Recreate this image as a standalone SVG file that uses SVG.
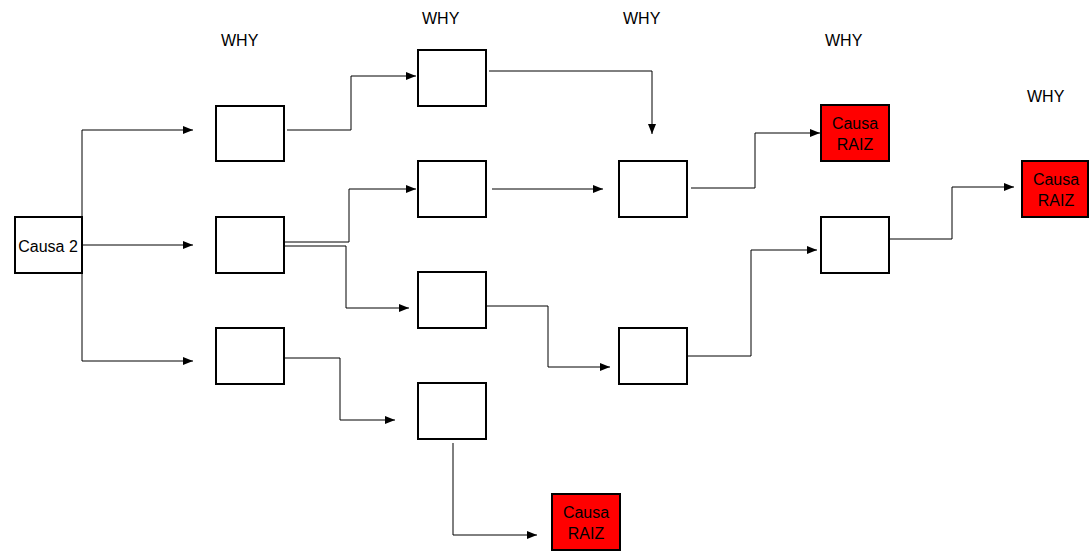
<svg xmlns="http://www.w3.org/2000/svg" width="1090" height="558" viewBox="0 0 1090 558">
<defs>
<marker id="ah" viewBox="0 0 10 8" refX="10" refY="4" markerWidth="10" markerHeight="8" markerUnits="userSpaceOnUse" orient="auto">
<path d="M0,0 L10,4 L0,8 Z" fill="#000"/>
</marker>
</defs>
<style>
.box{fill:#fff;stroke:#000;stroke-width:2}
.red{fill:#ff0000;stroke:#000;stroke-width:2}
.c{fill:none;stroke:#000;stroke-width:1;marker-end:url(#ah)}
.cn{fill:none;stroke:#000;stroke-width:1}
text{font-family:"Liberation Sans",Arial,sans-serif;font-size:16px;fill:#000}
.m{text-anchor:middle}
</style>
<rect width="1090" height="558" fill="#fff"/>
<g id="labels">
<text x="221" y="46">WHY</text>
<text x="422" y="24">WHY</text>
<text x="623" y="24">WHY</text>
<text x="825" y="46">WHY</text>
<text x="1027" y="102">WHY</text>
</g>
<g id="connectors">
<path class="cn" d="M82,130 V361"/>
<path class="c" d="M82,130 H193"/>
<path class="c" d="M82,245 H193"/>
<path class="c" d="M82,361 H193"/>
<path class="c" d="M287,130 H351 V76 H416"/>
<path class="c" d="M284,242 H349 V189 H416"/>
<path class="c" d="M284,246 H346 V308 H409"/>
<path class="c" d="M284,358 H340 V420 H395"/>
<path class="c" d="M489,71 H652 V134"/>
<path class="c" d="M492,189 H603"/>
<path class="c" d="M486,306 H548 V367 H610"/>
<path class="c" d="M453,443 V535 H537"/>
<path class="c" d="M691,188 H755 V133 H820"/>
<path class="c" d="M687,356 H751 V250 H817"/>
<path class="c" d="M889,239 H952 V187 H1014"/>
</g>
<g id="causa2">
<rect class="box" x="15" y="217" width="67" height="56"/>
<text x="48" y="252" class="m">Causa 2</text>
</g>
<g id="n1a"><rect class="box" x="216" y="106" width="68" height="55"/></g>
<g id="n1b"><rect class="box" x="216" y="217" width="68" height="56"/></g>
<g id="n1c"><rect class="box" x="216" y="328" width="68" height="56"/></g>
<g id="n2a"><rect class="box" x="418" y="50" width="68" height="56"/></g>
<g id="n2b"><rect class="box" x="418" y="161" width="68" height="56"/></g>
<g id="n2c"><rect class="box" x="418" y="272" width="68" height="56"/></g>
<g id="n2d"><rect class="box" x="418" y="383" width="68" height="56"/></g>
<g id="n3a"><rect class="box" x="619" y="161" width="68" height="56"/></g>
<g id="n3b"><rect class="box" x="619" y="328" width="68" height="56"/></g>
<g id="raiz1">
<rect class="red" x="821" y="105" width="68" height="56"/>
<text x="855" y="129" class="m">Causa</text>
<text x="855" y="150" class="m">RAIZ</text>
</g>
<g id="n4b"><rect class="box" x="821" y="217" width="68" height="56"/></g>
<g id="raiz2">
<rect class="red" x="1022" y="161" width="66" height="56"/>
<text x="1056" y="185" class="m">Causa</text>
<text x="1056" y="206" class="m">RAIZ</text>
</g>
<g id="raiz3">
<rect class="red" x="552" y="494" width="68" height="56"/>
<text x="586" y="518" class="m">Causa</text>
<text x="586" y="539" class="m">RAIZ</text>
</g>
</svg>
